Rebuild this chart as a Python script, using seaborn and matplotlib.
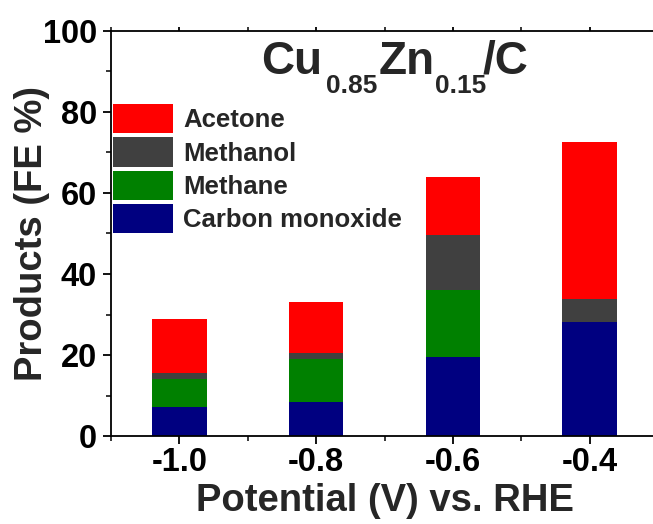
import numpy as np
import pandas as pd
import matplotlib
matplotlib.use("Agg")
import matplotlib.pyplot as plt
from matplotlib.ticker import MultipleLocator, FormatStrFormatter
import seaborn as sns

# Faradaic efficiency (%) of each product at each applied potential
potential = [-1.0, -0.8, -0.6, -0.4]
carbon_monoxide = [7.2, 8.5, 19.5, 28.2]
methane = [6.9, 10.5, 16.5, 0.0]
methanol = [1.5, 1.5, 13.6, 5.7]
acetone = [13.2, 12.7, 14.4, 38.6]

products = ["Carbon monoxide", "Methane", "Methanol", "Acetone"]
colors = {"Carbon monoxide": "#000080", "Methane": "#008000",
          "Methanol": "#404040", "Acetone": "#ff0000"}

sns.set_theme(style="ticks")
plt.rcParams["font.family"] = ["Liberation Sans", "DejaVu Sans"]
plt.rcParams["font.weight"] = "bold"
plt.rcParams["axes.unicode_minus"] = False

df = pd.DataFrame({"Potential": potential,
                   "Carbon monoxide": carbon_monoxide,
                   "Methane": methane,
                   "Methanol": methanol,
                   "Acetone": acetone})
# running totals for stacking, bottom layer first
cum = df[products].cumsum(axis=1)
cum["Potential"] = df["Potential"]

fig = plt.figure(figsize=(6.53, 5.24), dpi=100)
ax = fig.add_axes([0.170, 0.1674, 0.8377, 0.774])

# draw tallest stack first so lower layers paint over it
for name in reversed(products):
    sns.barplot(data=cum, x="Potential", y=name, native_scale=True,
                width=0.4, color=colors[name], saturation=1,
                errorbar=None, label=name, linewidth=0, ax=ax)

ax.set_xlim(-1.1, -0.3)
ax.set_ylim(0, 100)
ax.xaxis.set_major_locator(MultipleLocator(0.2))
ax.xaxis.set_minor_locator(MultipleLocator(0.1))
ax.xaxis.set_major_formatter(FormatStrFormatter("%.1f"))
ax.yaxis.set_major_locator(MultipleLocator(20))
ax.yaxis.set_minor_locator(MultipleLocator(10))

for side in ["left", "bottom", "top"]:
    ax.spines[side].set_linewidth(1.3)
    ax.spines[side].set_color("black")
ax.spines["right"].set_visible(False)

ax.tick_params(axis="both", which="major", direction="out", length=6,
               width=1.3, labelsize=23.5, colors="black")
ax.tick_params(axis="y", which="major", pad=4)
ax.tick_params(axis="x", which="major", pad=2)
ax.tick_params(axis="both", which="minor", direction="out", length=3.5,
               width=1.3)
ax.tick_params(axis="x", which="both", top=True)
for lab in ax.get_xticklabels() + ax.get_yticklabels():
    lab.set_fontweight("bold")

ax.set_xlabel("Potential (V) vs. RHE", fontsize=27.5, fontweight="bold",
              labelpad=3)
ax.set_ylabel("Products (FE %)", fontsize=27.5, fontweight="bold",
              labelpad=-5)

# formula title assembled piece by piece with deep subscripts
base_y = 450   # baseline of the large glyphs, figure pixels
sub_y = 431    # baseline of the subscripts
pieces = [("Cu", 33, base_y, 0), ("0.85", 19, sub_y, 4),
          ("Zn", 33, base_y, 1), ("0.15", 19, sub_y, 0),
          ("/C", 33, base_y, -3)]
prev = None
for txt, size, y, dx in pieces:
    if prev is None:
        prev = ax.annotate(txt, xy=(261, y), xycoords="figure pixels",
                           ha="left", va="baseline", fontsize=size,
                           fontweight="bold", annotation_clip=False)
    else:
        prev = ax.annotate(txt, xy=(1, y), xycoords=(prev, "figure pixels"),
                           xytext=(dx, 0), textcoords="offset pixels",
                           ha="left", va="baseline", fontsize=size,
                           fontweight="bold", annotation_clip=False)

leg = ax.legend(loc="upper left", bbox_to_anchor=(0.0035, 0.819),
                frameon=False, fontsize=18.5, handlelength=2.33,
                handleheight=1.38, handletextpad=0.4, labelspacing=0.15,
                borderpad=0, borderaxespad=0)
for t in leg.get_texts():
    t.set_fontweight("bold")

# short ticks along the top edge
for t in ax.xaxis.get_major_ticks() + ax.xaxis.get_minor_ticks():
    t.tick2line.set_markersize(3)

fig.savefig("out.png", dpi=100)
